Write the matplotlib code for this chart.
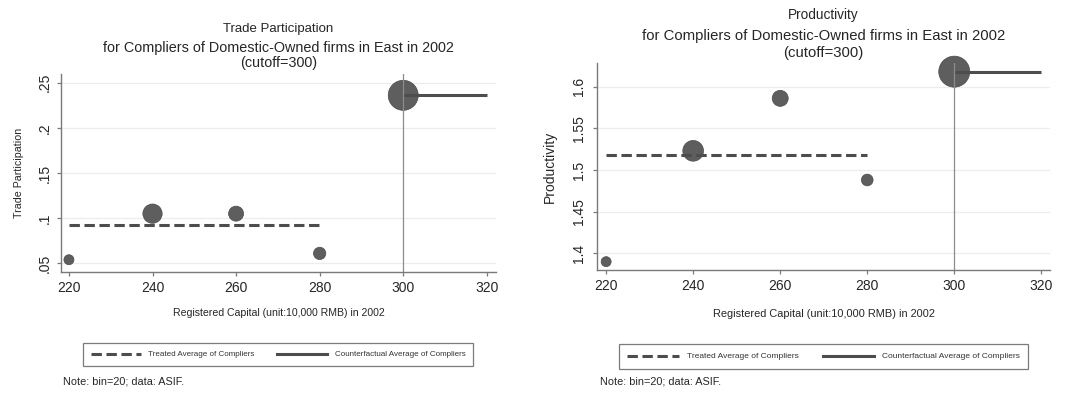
import matplotlib
matplotlib.use("Agg")
import matplotlib.pyplot as plt
from matplotlib.lines import Line2D

plt.rcParams['font.family'] = ['Liberation Sans', 'DejaVu Sans']

# ---------------- data ----------------
bins = [220, 240, 260, 280, 300]
cutoff = 300
x_ticks = [220, 240, 260, 280, 300, 320]

trade_vals = [0.054, 0.105, 0.105, 0.061, 0.236]
trade_bin_weight = [100, 372, 225, 151, 900]
trade_treated_avg = 0.092
trade_counterfactual_avg = 0.236
trade_yticks = [0.05, 0.10, 0.15, 0.20, 0.25]
trade_yticklabels = [".05", ".1", ".15", ".2", ".25"]

prod_vals = [1.390, 1.523, 1.586, 1.488, 1.618]
prod_bin_weight = [100, 428, 256, 137, 961]
prod_treated_avg = 1.518
prod_counterfactual_avg = 1.618
prod_yticks = [1.40, 1.45, 1.50, 1.55, 1.60]
prod_yticklabels = ["1.4", "1.45", "1.5", "1.55", "1.6"]

treated_range = [220, 280]
counter_range = [300, 320]

subtitle = "for Compliers of Domestic-Owned firms in East in 2002"
cutoff_text = "(cutoff=300)"
xlabel = "Registered Capital (unit:10,000 RMB) in 2002"
legend_labels = ["Treated Average of Compliers", "Counterfactual Average of Compliers"]
note = "Note: bin=20; data: ASIF."

# ---------------- figure ----------------
W, H = 1081, 395
fig = plt.figure(figsize=(W / 100, H / 100), dpi=100)
fig.patch.set_facecolor('white')

MARK = '#5e5e5e'
LINE = '#4d4d4d'
SPINE = '#7a7a7a'
TXT = '#262626'


def fx(x):
    return x / W


def fy(y):
    return 1 - y / H


def panel(box, xlim, ylim, vals, weights, tavg, cavg, yticks, yticklabels,
          title, ylabel, title_ys, title_fs, sub_fs, ylabel_fs, ylabel_x, xlabel_y,
          xlabel_fs, legend_center, legend_fs, note_xy, ypad):
    l, t, r, b = box
    ax = fig.add_axes([fx(l), fy(b), fx(r - l), (b - t) / H])
    ax.set_xlim(*xlim)
    ax.set_ylim(*ylim)
    for s in ['top', 'right']:
        ax.spines[s].set_visible(False)
    for s in ['left', 'bottom']:
        ax.spines[s].set_color(SPINE)
        ax.spines[s].set_linewidth(1.0)
    ax.set_xticks(x_ticks)
    ax.set_xticklabels([str(v) for v in x_ticks])
    ax.set_yticks(yticks)
    ax.set_yticklabels(yticklabels)
    ax.tick_params(axis='both', colors=SPINE, labelcolor=TXT, labelsize=10,
                   length=3, width=0.9, direction='out')
    ax.tick_params(axis='x', pad=3.5)
    ax.tick_params(axis='y', pad=ypad, labelrotation=90)
    for lab in ax.get_yticklabels():
        lab.set_va('center')
    ax.grid(axis='y', color='#ededed', linewidth=0.9)
    ax.set_axisbelow(True)

    sizes = [w * 0.5184 for w in weights]
    ax.scatter(bins, vals, s=sizes, color=MARK, edgecolor='#4a4a4a',
               linewidth=0.5, zorder=3, clip_on=False)
    ax.plot(treated_range, [tavg, tavg], color=LINE, linewidth=2.2,
            dashes=(3.4, 1.5), zorder=4, solid_capstyle='butt')
    ax.plot(counter_range, [cavg, cavg], color=LINE, linewidth=2.2, zorder=4,
            solid_capstyle='butt')
    ax.axvline(cutoff, color='#8c8c8c', linewidth=0.9, zorder=5)

    cx = (l + r) / 2
    fig.text(fx(cx), fy(title_ys[0]), title, ha='center', va='center',
             fontsize=title_fs, color=TXT)
    fig.text(fx(cx), fy(title_ys[1]), subtitle, ha='center', va='center',
             fontsize=sub_fs, color=TXT)
    fig.text(fx(cx), fy(title_ys[2]), cutoff_text, ha='center', va='center',
             fontsize=sub_fs, color=TXT)
    fig.text(fx(ylabel_x), fy((t + b) / 2), ylabel, rotation=90, ha='center',
             va='center', fontsize=ylabel_fs, color=TXT)
    fig.text(fx(cx), fy(xlabel_y), xlabel, ha='center', va='center',
             fontsize=xlabel_fs, color=TXT)

    handles = [Line2D([0], [0], color=LINE, linewidth=2.2, dashes=(3.4, 1.5)),
               Line2D([0], [0], color=LINE, linewidth=2.2)]
    leg = ax.legend(handles, legend_labels, loc='center',
                    bbox_to_anchor=(fx(legend_center[0]), fy(legend_center[1])),
                    bbox_transform=fig.transFigure, ncol=2, fontsize=legend_fs,
                    frameon=True, fancybox=False, edgecolor='#5a5a5a',
                    handlelength=6.2, handletextpad=0.9, columnspacing=2.9,
                    borderpad=1.0, labelcolor='#333333')
    leg.get_frame().set_linewidth(0.9)
    fig.text(fx(note_xy[0]), fy(note_xy[1]), note, ha='left', va='center',
             fontsize=7.8, color=TXT)
    return ax


panel(box=(61, 74, 496, 272), xlim=(218.1, 322.2), ylim=(0.0404, 0.2596),
      vals=trade_vals, weights=trade_bin_weight, tavg=trade_treated_avg,
      cavg=trade_counterfactual_avg, yticks=trade_yticks,
      yticklabels=trade_yticklabels, title="Trade Participation",
      ylabel="Trade Participation", title_ys=(29, 48, 62.5), title_fs=9.5,
      sub_fs=10.4, ylabel_fs=7.7, ylabel_x=19, xlabel_y=313, xlabel_fs=7.6,
      legend_center=(278, 354.5), legend_fs=5.8, note_xy=(63, 381), ypad=3.5)

panel(box=(597, 63, 1050, 270), xlim=(217.9, 322.0), ylim=(1.38, 1.6284),
      vals=prod_vals, weights=prod_bin_weight, tavg=prod_treated_avg,
      cavg=prod_counterfactual_avg, yticks=prod_yticks,
      yticklabels=prod_yticklabels, title="Productivity",
      ylabel="Productivity", title_ys=(15, 36, 52.5), title_fs=9.8,
      sub_fs=10.7, ylabel_fs=10, ylabel_x=550, xlabel_y=314, xlabel_fs=7.95,
      legend_center=(823.5, 356.5), legend_fs=6.0, note_xy=(600, 382), ypad=5)

fig.savefig("out.png", dpi=100, facecolor='white')
